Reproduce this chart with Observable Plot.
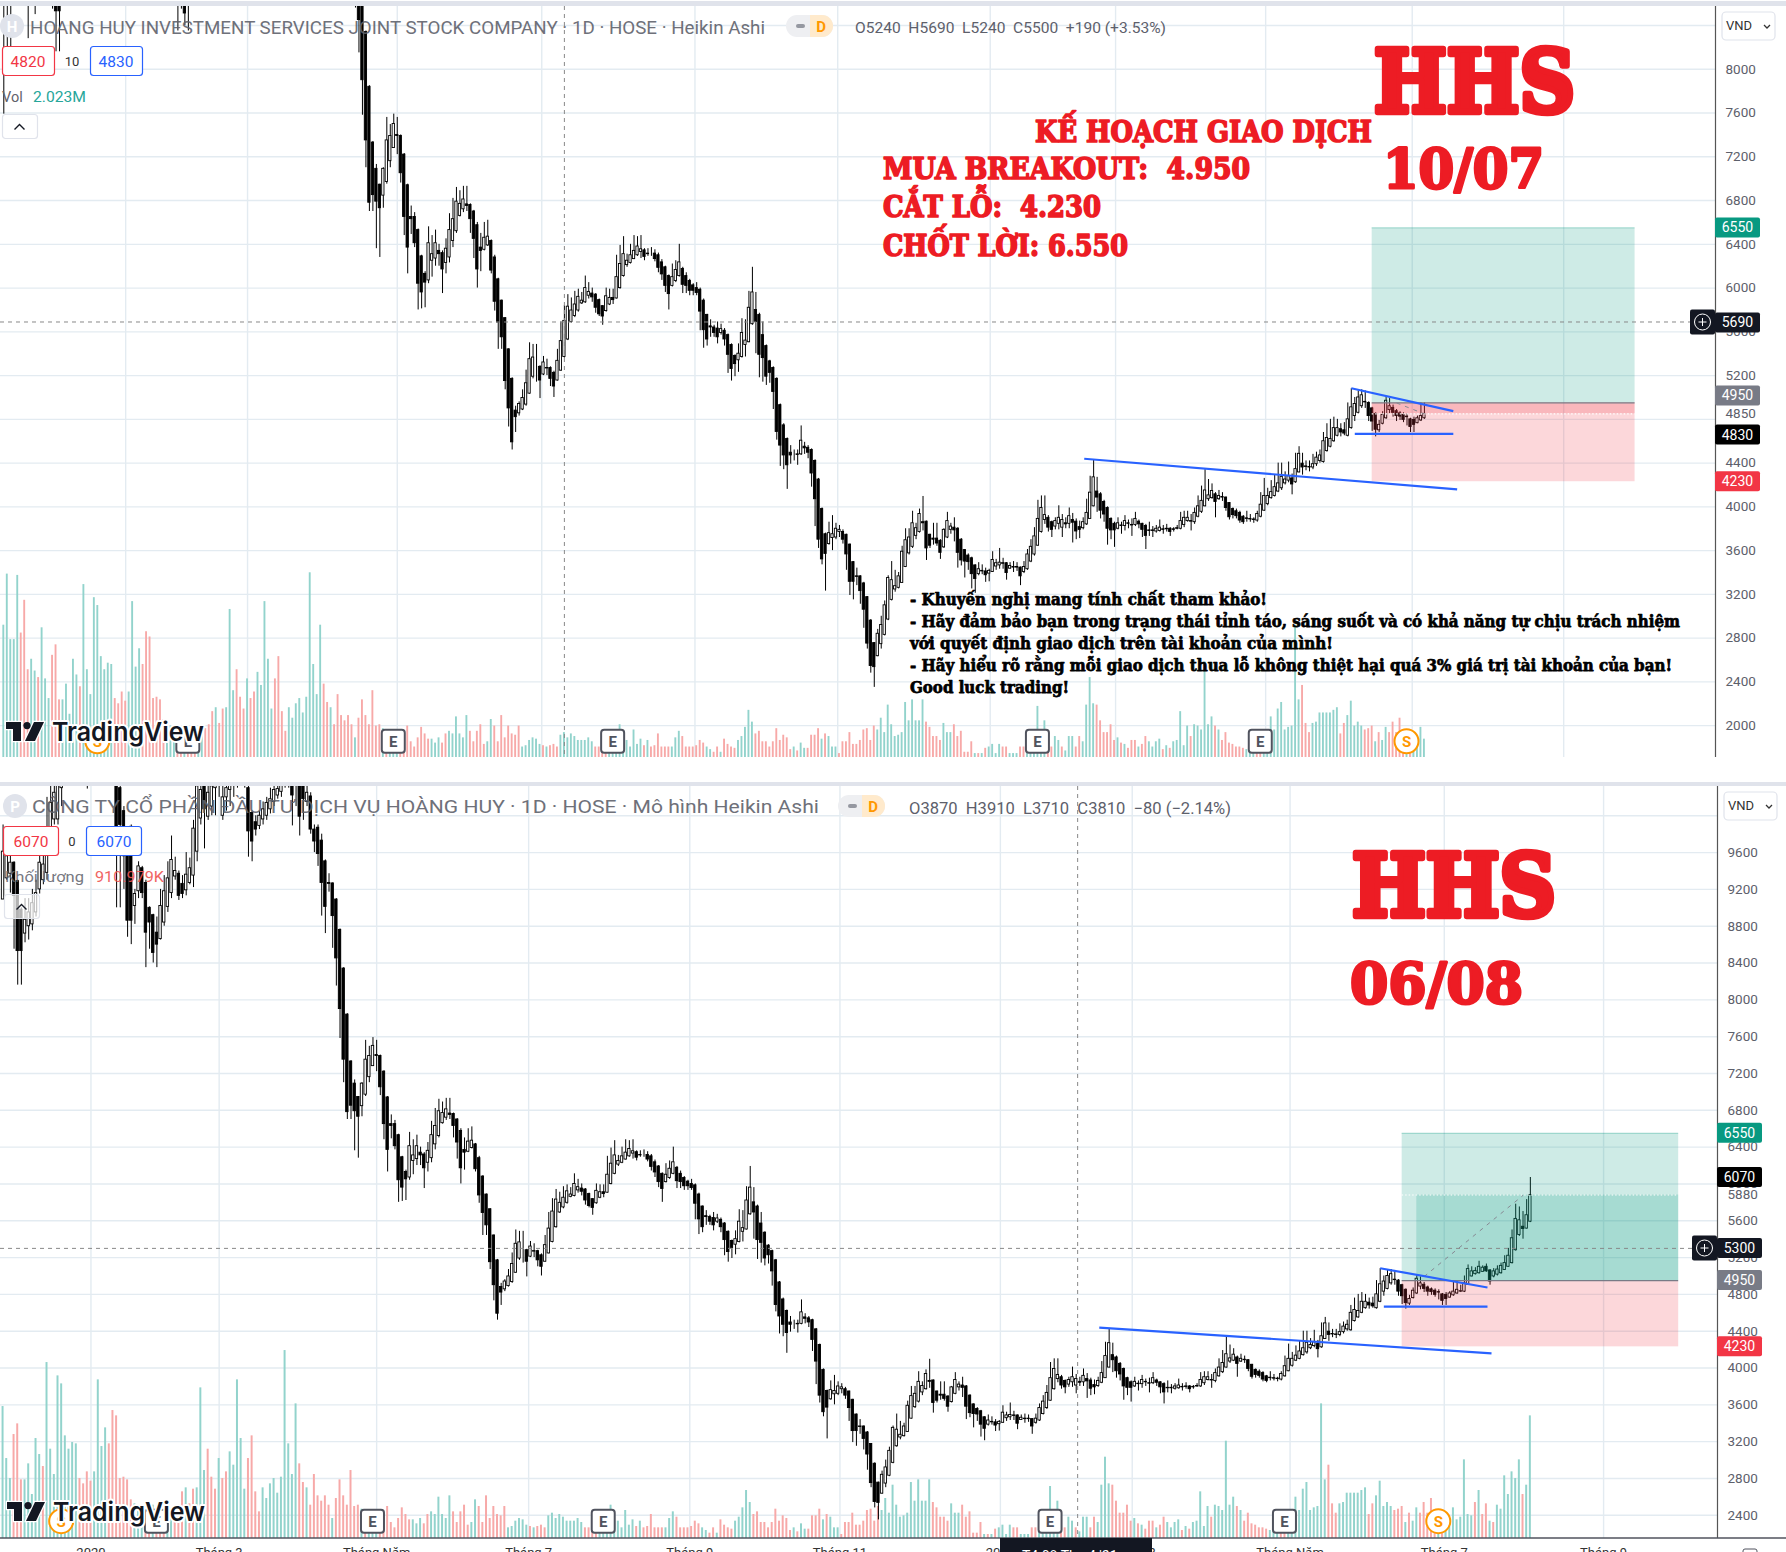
<!DOCTYPE html>
<html><head><meta charset="utf-8">
<script src="https://cdn.jsdelivr.net/npm/d3@7"></script>
<script src="https://cdn.jsdelivr.net/npm/@observablehq/plot@0.6"></script>
<style>
html,body{margin:0;padding:0;background:#fff;overflow:hidden}
#page{position:relative;width:1786px;height:1552px;overflow:hidden;background:#fff}
#page>svg{position:absolute;left:0}
</style></head><body><div id="page"></div>
<script>
// Heikin Ashi daily candles of HHS. First candle index is -11.
const firstIndex = -11;
const opens = [
8800,8650,8800,9000,9200,9300,9200,9000,8950,9050,9150,
9090,9320,9370,9490,9290,8980,8720,8800,8820,8950,9200,9300,9380,9850,9960,9960,10300,10500,
10500,10700,10900,11050,11100,11000,10800,10900,11100,11300,11250,11100,10900,
10400,10300,10050,9560,9880,9020,9180,9430,9270,9000,
8920,8730,8660,8840,9010,9160,9340,9370,9260,9190,
9270,9350,9610,9970,10350,9990,10100,10300,10400,10000,
10200,10280,10350,10450,10550,10500,10300,10030,9930,9890,
9960,10000,10070,10150,10220,10260,10350,10450,10400,10420,
10350,10400,10150,10210,9850,9870,9730,9505,9270,9265,
9090,8760,8340,7840,7330,7090,6945,6845,6970,7160,7280,7400,7390,7220,6940,6650,6650,6530,6290,6130,6070,6250,6270,6340,6320,6230,6280,6430,6520,6660,6720,6765,6760,6700,6575,6370,6350,6390,6430,6280,
6080,5885,5725,5440,5170,4880,4855,4890,4935,5035,5190,5280,5280,5210,5270,5270,5225,5155,5245,5370,5530,5690,5745,5795,5860,5870,5930,5950,5940,5890,5835,5790,5850,5910,5905,6000,6110,6210,6230,6265,6300,6330,6345,6315,6310,6315,6300,6235,6190,6110,6020,6065,6110,6175,6110,6065,6025,6000,5985,5885,5755,5650,5640,5630,5590,5610,5570,5480,5380,5340,5370,5480,5505,5670,5800,5755,5570,5470,5330,5270,5170,4930,4745,4620,4495,4480,4480,4480,4550,4540,4520,4420,4250,3980,3750,3660,3715,3720,3770,3770,3745,3655,3495,3365,3365,3300,3175,2960,2755,
2635,2745,2830,2970,3150,3245,3260,3305,3450,3575,3635,3735,3770,3860,3865,3745,3710,3710,3690,3630,3720,3790,3810,3800,3700,3605,3555,3530,3465,3385,3415,3410,3390,3405,3455,3465,3485,3485,3435,3450,3450,3445,3405,3430,3500,3565,3645,3770,3880,3900,3860,3820,3845,3810,3850,3845,3880,3865,3815,3805,3840,3890,4005,4140,4115,4045,3990,3890,3845,3800,3830,3825,3850,3835,3835,3865,3845,3825,3785,3785,3775,3780,3795,3800,3800,3795,3805,3800,3835,3870,3870,3860,3910,3955,4005,4070,4080,4115,4070,4090,4085,4035,3980,3960,3945,3910,3895,3890,3885,3875,3910,3965,4025,4080,4100,4140,4170,4215,4240,4260,4225,4315,4395,4370,4365,4360,
4390,4420,4410,4510,4550,4600,4650,4710,4700,4650,4720,4830,4860,4920,4960,4950,4900,4850,4700,4760,4810,4885,4905,4875,4855,4840,4825,4800,4795,4765,4790,4810,4830,4830,4905,4995,5020,5030,5045,5100,5060,4995,5015,5030,5065,5100,5140,5280,5445,5535,5515,5590];
const closes = [
8650,8800,9000,9200,9300,9200,9000,8950,9050,9150,9100,
9610,9560,9490,9130,8530,8530,8870,8950,9050,9160,9490,9470,9780,10140,10250,10400,10500,10550,
10700,10900,11050,11100,11000,10800,10900,11100,11300,11250,11100,10950,10700,
9880,9900,9560,8860,8860,9150,9450,9160,8730,8840,
8510,8600,9020,9180,9320,9520,9400,9130,9150,9360,
9430,9860,10320,10280,10070,10250,10320,10400,10350,10200,
10300,10350,10450,10550,10500,10450,9830,9720,9850,10000,
10070,10140,10180,10280,10290,10350,10500,10500,10220,10380,
9990,10180,10250,9850,9720,9585,9270,9010,9260,8910,
8450,7900,7350,6780,6850,6790,6730,7090,7350,7390,7500,7390,7050,6650,6370,6630,6410,6040,5960,6050,6410,6310,6410,6310,6170,6360,6530,6630,6790,6770,6810,6750,6630,6450,6170,6340,6460,6470,6160,5875,
5685,5550,5150,4900,4590,4820,4940,4995,5130,5350,5365,5280,5155,5320,5265,5170,5100,5335,5515,5700,5830,5795,5850,5920,5885,6000,5965,5915,5820,5760,5740,5925,5910,5890,6100,6220,6310,6250,6300,6340,6380,6355,6285,6310,6310,6265,6185,6125,6020,5945,6100,6165,6235,6030,6020,5975,5975,5955,5785,5615,5530,5640,5590,5550,5625,5530,5390,5260,5305,5400,5590,5520,5820,5960,5690,5390,5360,5190,5225,5050,4685,4560,4470,4380,4470,4480,4475,4605,4535,4495,4305,4070,3700,3520,3570,3760,3750,3800,3790,3700,3565,3315,3315,3360,3230,3060,2750,2545,2535,
2840,2920,3100,3350,3330,3275,3365,3590,3695,3720,3850,3805,3935,3850,3620,3645,3700,3665,3580,3790,3870,3820,3785,3580,3510,3500,3495,3385,3340,3430,3410,3375,3415,3515,3485,3490,3480,3395,3460,3445,3445,3365,3450,3565,3635,3730,3890,3990,3925,3810,3790,3870,3900,3880,3840,3915,3855,3775,3790,3860,3945,4130,4270,4085,3965,3930,3800,3785,3785,3850,3825,3870,3845,3830,3890,3840,3790,3735,3780,3780,3800,3810,3790,3795,3770,3790,3800,3870,3900,3900,3865,3945,4005,4055,4150,4105,4145,4045,4100,4085,3990,3905,3925,3915,3875,3860,3890,3885,3880,3935,4020,4100,4100,4135,4180,4215,4275,4250,4280,4205,4345,4485,4360,4365,4360,4390,
4450,4470,4600,4630,4620,4720,4720,4680,4670,4800,4910,4940,5000,5020,4955,4830,4780,4705,4750,4840,4970,4920,4860,4830,4825,4795,4820,4730,4750,4810,4830,4850,4835,4920,5075,5050,5055,5100,5090,5050,4940,5050,5070,5110,5140,5220,5410,5620,5605,5510,5660,5880];
const highs = [
9000,9000,9200,9400,9500,9450,9300,9150,9200,9350,9300,
9900,9700,9700,9500,9300,9000,9100,9100,9200,9300,9800,9700,10200,10320,10400,10600,10800,10700,
10900,11100,11300,11400,11300,11100,11100,11300,11500,11600,11400,11200,11000,
10500,10400,10100,9600,9900,9200,9500,9450,9300,9010,
8930,8900,9200,9350,9500,9780,9550,9400,9350,9600,
9540,9950,10600,10500,10500,10500,10500,10600,10550,10400,
10500,10550,10700,10800,10750,10700,10500,10050,10000,10050,
10150,10200,10300,10400,10450,10500,10650,10650,10500,10520,
10450,10450,10350,10250,9900,9900,9800,9520,9370,9270,
9100,8770,8350,7850,7340,7130,6950,7100,7560,7495,7590,7560,7400,7230,6950,6750,6690,6540,6300,6150,6560,6480,6530,6400,6340,6450,6680,6820,6920,6890,6930,6930,6770,6710,6600,6500,6600,6620,6440,6300,
6090,5890,5730,5445,5180,4920,4960,5070,5250,5500,5485,5485,5290,5375,5350,5280,5240,5440,5690,5840,5940,5910,5970,5990,5960,6110,6050,6000,5950,5900,5840,6000,5990,5990,6300,6390,6470,6310,6400,6480,6470,6480,6360,6360,6370,6350,6320,6260,6200,6120,6220,6250,6400,6190,6140,6080,6040,6050,6000,5900,5760,5710,5660,5690,5670,5630,5580,5490,5390,5490,5720,5710,5970,6190,5960,5770,5690,5480,5340,5280,5180,4940,4760,4630,4560,4520,4520,4740,4590,4560,4530,4430,4260,3990,3760,3860,3920,3850,3830,3790,3750,3660,3500,3440,3370,3310,3180,2970,2760,
2880,3000,3140,3370,3500,3420,3400,3640,3800,3800,3960,3850,3980,4095,3870,3750,3850,3850,3700,3800,3950,3850,3900,3810,3710,3610,3570,3540,3470,3490,3470,3440,3430,3590,3520,3620,3530,3490,3490,3500,3490,3450,3500,3610,3700,3810,4060,4100,4100,3920,3870,3900,4010,3930,3900,3990,3940,3890,3870,3900,4070,4280,4430,4270,4130,4060,4000,3900,3860,3900,3860,3920,3880,3890,3950,3880,3850,3840,3860,3820,3830,3880,3830,3840,3810,3810,3830,3950,3960,3960,3930,3990,4100,4190,4340,4250,4210,4130,4150,4130,4090,4040,3990,3980,3960,3920,3960,3930,3900,3960,4130,4260,4170,4240,4290,4400,4400,4320,4410,4300,4490,4550,4490,4420,4420,4480,
4500,4520,4680,4760,4800,4820,4800,4760,4770,4950,5080,5000,5060,5070,5060,4960,4910,4860,4790,4870,5010,4990,4930,4890,4870,4860,4850,4810,4820,4830,4950,4950,4900,5000,5120,5100,5090,5160,5110,5130,5070,5080,5110,5140,5220,5300,5500,5780,5750,5700,5830,6070];
const lows = [
7590,8200,8200,8650,8900,8800,8700,8280,8600,8500,8700,
9090,9300,9160,8550,8160,8160,8620,8650,8750,8900,9150,9250,9300,9800,9900,9900,10100,10400,
10400,10500,10700,10800,10700,10290,10500,10700,10900,11000,10800,10500,10400,
9000,9000,9200,8680,8600,8820,9100,9100,8350,8550,
8400,8350,8650,8800,8950,9100,9300,9080,9100,9130,
9250,9220,9500,9900,9640,9950,10000,10000,10200,9950,
10050,10100,10200,10300,10350,10300,9550,9500,9780,9850,
9900,9950,10020,10100,10180,10200,10300,10300,9890,10100,
9780,9950,10100,9800,9600,9450,8910,8720,9170,8560,
8150,7580,7100,6700,6700,6360,6280,6730,6950,7100,7280,7220,6960,6480,6130,6490,6370,5800,5810,5820,6040,6100,6200,6200,5950,6130,6230,6370,6500,6650,6690,6700,6500,6270,6000,6150,6340,6380,6130,5790,
5440,5440,5070,4730,4520,4680,4830,4880,4920,5030,5170,5140,4990,5200,5200,5100,5000,5150,5240,5360,5520,5680,5730,5780,5850,5860,5900,5870,5770,5740,5660,5780,5840,5850,5900,5990,6100,6190,6220,6260,6290,6270,6250,6290,6290,6240,6140,6070,5960,5800,6010,6050,6100,5950,5950,5930,5930,5930,5610,5450,5470,5550,5550,5490,5570,5470,5220,5150,5190,5230,5360,5370,5500,5660,5400,5180,5140,5110,5130,4890,4610,4370,4340,4160,4390,4420,4380,4470,4480,4440,4180,3820,3620,3470,3230,3650,3600,3700,3720,3660,3420,3190,3150,3280,3110,2890,2700,2480,2350,
2630,2700,2820,2960,3140,3220,3250,3300,3445,3560,3620,3700,3760,3780,3510,3620,3650,3640,3520,3620,3710,3750,3680,3440,3460,3350,3420,3250,3210,3370,3380,3310,3315,3400,3420,3430,3430,3330,3430,3400,3410,3280,3390,3420,3490,3550,3640,3760,3840,3770,3720,3790,3790,3720,3800,3800,3670,3700,3710,3790,3830,3890,4000,3950,3890,3860,3650,3700,3630,3790,3750,3780,3800,3730,3820,3800,3720,3610,3730,3720,3760,3770,3750,3770,3730,3770,3790,3790,3810,3860,3780,3840,3900,3940,4000,4050,4070,3900,4060,4050,3960,3880,3890,3890,3850,3840,3860,3860,3850,3860,3900,3960,4010,4070,4090,4130,4150,4200,4220,4110,4215,4310,4290,4330,4320,4340,
4370,4400,4400,4500,4540,4590,4640,4640,4650,4640,4710,4780,4850,4900,4900,4780,4690,4640,4680,4750,4800,4850,4820,4780,4790,4770,4740,4680,4680,4760,4780,4800,4820,4820,4900,4990,5010,5020,5040,5040,4900,4980,5000,5020,5060,5095,5130,5270,5430,5400,5510,5580];
// Volume in units of 10,000 shares. Negative = a red (down) bar, positive = a teal (up) bar.
const signedVols = [
101,140,90,90,139,-95,-120,-67,75,66,-61,
99,60,45,-78,-86,-44,44,56,33,75,
63,-54,132,67,48,122,116,77,67,72,
71,-45,-41,-50,-43,50,119,69,83,-71,
-96,-92,-45,-46,-44,-29,26,24,20,-18,
-20,25,-12,-20,-18,16,18,-22,-25,-35,
38,-26,-37,38,113,51,-67,-46,-37,60,
-45,-50,65,55,119,75,37,-60,-77,-35,
-20,38,30,41,45,34,46,141,71,48,
101,-56,-42,38,-25,-48,-32,-28,-32,-25,
15,-30,-44,-32,-25,-51,-24,-25,22,-18,
15,14,15,-15,-13,-24,-12,-8,-15,-23,-18,-14,14,11,15,-11,-18,20,18,31,18,15,32,-20,-12,-20,-25,-10,12,29,-24,-12,-32,-15,-24,-18,-17,-24,8,9,13,
15,14,10,-9,8,-9,-10,-8,17,19,
15,18,16,13,13,13,15,12,-8,-8,
-6,-6,5,5,7,25,13,13,8,21,
10,14,-9,13,-8,-9,-18,-8,-8,-8,
8,15,20,-16,-8,-8,-8,-9,-13,-11,
8,6,-4,-8,4,-14,-10,-8,-7,13,
16,23,36,27,-18,-20,-12,-12,-8,-12,
-22,-13,-17,-15,-6,8,-5,11,7,-7,
-17,-17,-22,14,-18,16,8,8,-3,-12,
-12,-19,-10,-10,-13,-21,-22,-13,-24,21,
30,19,40,25,16,17,19,42,28,44,
28,28,44,-27,-23,-16,-16,-13,26,19,
19,-25,-16,-20,-4,-4,-12,3,-3,3,
-7,8,10,3,10,-8,-8,3,3,3,
-8,-8,6,5,5,39,18,28,-16,-8,
16,13,-8,5,16,16,-8,-16,12,40,
61,41,-40,-28,-19,-19,-25,-13,15,-11,
10,-7,-13,-13,8,-10,-16,12,8,12,
14,-6,9,-7,12,13,35,9,24,-16,
25,24,21,73,25,31,-24,21,-13,-19,
-11,-10,-8,-8,-7,6,6,6,-6,-10,
10,20,31,21,37,42,21,23,24,101,44,-55,-26,-19,26,
27,34,34,34,34,36,38,-18,-26,32,
43,24,27,24,-21,-22,-24,12,-19,13,
23,-19,-27,-19,-30,-19,19,-19,14,13,
23,14,16,59,18,17,-27,36,-18,-26,
13,-12,25,22,47,33,50,45,59,-33,
40,92];
// Month separators, shared by both panels, and the bottom axis labels.
const monthIndex = [24,59,102,143.5,187.5,228.5,272.3,308.3,351.4,393.5,437];
const monthLabels = ["2020","Tháng 3","Tháng Năm","Tháng 7","Tháng 9","Tháng 11","2021","Tháng 3","Tháng Năm","Tháng 7","Tháng 9"];
const earningsIndex = [42,101,164,286,350];
const splitIndex = [16,392];
// Trend lines, drawn on the same candles in both panels.
const trendX1 = [299.3,376,377], trendY1 = [4440,5084,4667];
const trendX2 = [406.4,405.3,405.3], trendY2 = [4160,4875,4667];
// Long position tool.
const entry = 4950, stopLoss = 4230, takeProfit = 6550;
const boxStart = 382, boxEnd = 457.5;
// Panel scale facts.
const topGrid = [8400,8000,7600,7200,6800,6400,6000,5600,5200,4800,4400,4000,3600,3200,2800,2400,2000];
const topTicks = [8000,7600,7200,6800,6400,6000,5600,5200,4850,4400,4000,3600,3200,2800,2400,2000];
const botGrid = [10000,9600,9200,8800,8400,8000,7600,7200,6800,6400,6000,5600,5200,4800,4400,4000,3600,3200,2800,2400];
const botTicks = [9600,9200,8800,8400,8000,7600,7200,6800,6400,6000,5880,5600,5200,4800,4400,4000,3600,3200,2800,2400];

const candles = opens.map((o,k)=>({i:k+firstIndex,o,c:closes[k],h:highs[k],l:lows[k]}));
const bars = signedVols.map((v,k)=>({i:k+firstIndex,v:Math.abs(v),down:v<0}));
const page = document.getElementById("page");
const TEAL="#92d3cc", RED="#f7a9a8", GRID="#e3ebf1";

function eventMark(indexes,label,colour,priceY){
  return (index,{x,y})=>{
    const g=d3.create("svg:g");
    indexes.forEach(i=>{
      const n=g.append("g").attr("transform",`translate(${x(i)},${y(priceY)})`);
      if(label==="E"){
        n.append("rect").attr("x",-11.5).attr("y",-11.5).attr("width",23).attr("height",23).attr("rx",3).attr("fill","#fff").attr("stroke",colour).attr("stroke-width",2);
      }else{
        n.append("circle").attr("r",12).attr("fill","#fff").attr("stroke",colour).attr("stroke-width",2);
      }
      n.append("text").attr("text-anchor","middle").attr("y",5.5).attr("font-size",15).attr("font-weight",700).attr("font-family","Roboto").attr("fill",colour).text(label);
    });
    return g.node();
  };
}
function badgeMark(list){
  return (index,{y},values,dims)=>{
    const g=d3.create("svg:g");
    const x0=dims.width-dims.marginRight;
    list.forEach(b=>{
      const cy=y(b.value)+(b.shift||0);
      g.append("rect").attr("x",x0).attr("y",cy-10).attr("width",45).attr("height",20).attr("rx",2).attr("fill",b.colour);
      g.append("text").attr("x",x0+22.5).attr("text-anchor","middle").attr("y",cy+5).attr("font-size",14).attr("font-family","Roboto").attr("fill","#fff").text(b.text||b.value);
    });
    return g.node();
  };
}
function panel(o){
  const cs=candles.filter(d=>d.i<=o.last&&d.i>=o.first), bs=bars.filter(d=>d.i<=o.last&&d.i>=o.first);
  const common={width:1786,height:o.height,marginTop:0,marginLeft:0,marginRight:o.marginRight,marginBottom:o.marginBottom,style:{background:"transparent",position:"absolute",top:o.top+"px",left:"0",overflow:"hidden"}};
  const frameH=o.height-o.marginBottom;
  const under=Plot.plot({...common,
    x:{domain:o.xDomain,axis:null},y:{domain:[0,100],range:[frameH,frameH-o.volPx],axis:null},
    marks:[
      Plot.rect(bs.filter(d=>!d.down),{x1:d=>d.i-.27,x2:d=>d.i+.27,y1:0,y2:"v",fill:TEAL,clip:true}),
      Plot.rect(bs.filter(d=>d.down),{x1:d=>d.i-.27,x2:d=>d.i+.27,y1:0,y2:"v",fill:RED,clip:true})
    ]});
  const grid=Plot.plot({...common,
    x:{domain:o.xDomain,axis:null},y:{domain:o.yDomain,axis:null},
    marks:[
      Plot.ruleY(o.grid,{stroke:GRID,strokeWidth:1.4}),
      Plot.ruleX(monthIndex,{stroke:GRID,strokeWidth:1.4})
    ]});
  const over=Plot.plot({...common,
    x:{domain:o.xDomain,axis:null},y:{domain:o.yDomain,axis:null},
    marks:[
      Plot.ruleX(cs,{x:"i",y1:"l",y2:"h",stroke:"#000",strokeWidth:1,clip:true}),
      Plot.rect(cs.filter(d=>d.c>=d.o),{x1:d=>d.i-.33,x2:d=>d.i+.33,y1:"o",y2:"c",fill:"#fff",stroke:"#000",strokeWidth:.9,clip:true}),
      Plot.rect(cs.filter(d=>d.c<d.o),{x1:d=>d.i-.33,x2:d=>d.i+.33,y1:"o",y2:"c",fill:"#000",stroke:"#000",strokeWidth:.9,clip:true}),
      Plot.rect([{a:boxStart,b:boxEnd,p:entry,q:takeProfit}],{x1:"a",x2:"b",y1:"p",y2:"q",fill:"#089981",fillOpacity:.2}),
      Plot.rect([{a:boxStart,b:boxEnd,p:stopLoss,q:entry}],{x1:"a",x2:"b",y1:"p",y2:"q",fill:"#f23645",fillOpacity:.2}),
      Plot.rect([o.live],{x1:"a",x2:"b",y1:"p",y2:"q",fill:o.liveColour,fillOpacity:.2}),
      Plot.ruleY([takeProfit],{x1:boxStart,x2:boxEnd,stroke:"#089981",strokeOpacity:.3}),
      Plot.ruleY([entry],{x1:boxStart,x2:boxEnd,stroke:"#787b86",strokeWidth:1.2}),
      Plot.ruleY([o.live.dotted],{x1:boxStart,x2:boxEnd,stroke:"#fff",strokeWidth:1.2,strokeDasharray:"1.5 2"}),
      Plot.link([o.guide],{x1:"x1",y1:"y1",x2:"x2",y2:"y2",stroke:"#868993",strokeWidth:1,strokeDasharray:"4 5"}),
      Plot.link(trendX1.map((x,k)=>({x,y:trendY1[k],x2:trendX2[k],y2:trendY2[k]})),{x1:"x",y1:"y",x2:"x2",y2:"y2",stroke:"#2962ff",strokeWidth:2.2}),
      Plot.ruleY([o.crossP],{stroke:"#888",strokeWidth:1,strokeDasharray:"4 4"}),
      Plot.ruleX([o.crossI],{stroke:"#888",strokeWidth:1,strokeDasharray:"4 4"}),
      eventMark(earningsIndex,"E","#50535e",o.eventP),
      eventMark(splitIndex,"S","#ff9800",o.eventP),
      Plot.ruleX([o.xDomain[1]],{stroke:"#555",strokeWidth:1.2}),
      Plot.axisY(o.ticks,{anchor:"right",tickSize:0,tickPadding:10,fontSize:13.5,fill:"#5d606b",label:null,tickFormat:"d",fontFamily:"Roboto"}),
      badgeMark(o.badges),
      ...(o.xAxis?[Plot.axisX(monthIndex,{anchor:"bottom",tickSize:0,tickPadding:9,fontSize:13,fill:"#333",label:null,tickFormat:(d,k)=>monthLabels[k],fontFamily:"Roboto"})]:[])
    ]});
  page.append(grid,under,over);
}
panel({top:6,height:751,marginRight:71,marginBottom:0,first:-11,last:397,volPx:131,
  xDomain:[-11.95,480.6],yDomain:[1709,8574],grid:topGrid,ticks:topTicks,crossP:5690,crossI:150,eventP:1853,
  live:{a:boxStart,b:boxEnd,p:4850,q:entry,dotted:4850},liveColour:"#f23645",
  guide:{x1:389,y1:4950,x2:397,y2:4850},
  badges:[{value:6550,colour:"#089981"},{value:5690,colour:"#131722",shift:1},{value:4950,colour:"#787b86",shift:-7},{value:4830,colour:"#000",shift:19},{value:4230,colour:"#f23645"}]});
panel({top:786,height:766,marginRight:69,marginBottom:14,first:0,last:417,volPx:133.3,xAxis:true,
  xDomain:[-.7,468.1],yDomain:[2148,10318],grid:botGrid,ticks:botTicks,crossP:5300,crossI:293.4,eventP:2331,
  live:{a:386,b:boxEnd,p:entry,q:5880,dotted:5880},liveColour:"#089981",
  guide:{x1:388,y1:4994,x2:415,y2:5876},
  badges:[{value:6550,colour:"#089981"},{value:6070,colour:"#000"},{value:5300,colour:"#131722"},{value:4950,colour:"#787b86"},{value:4230,colour:"#f23645"}]});

// Annotations and chart furniture on one layer above the plots.
const ann=d3.select(page).append("svg").attr("width",1786).attr("height",1552).style("top","0").style("pointer-events","none");
function t(x,y,s,o={}){
  const e=ann.append("text").attr("x",x).attr("y",y).text(s)
    .attr("font-family",o.font||"Roboto").attr("font-size",o.size||14).attr("fill",o.fill||"#555")
    .attr("font-weight",o.weight||400).attr("text-anchor",o.anchor||"start").attr("xml:space","preserve").style("white-space","pre");
  if(o.len){e.attr("textLength",o.len).attr("lengthAdjust","spacingAndGlyphs");}
  if(o.stroke){e.attr("stroke",o.stroke).attr("stroke-width",o.sw||1).attr("stroke-linejoin","round");}
  if(o.halo){e.attr("stroke","#fff").attr("stroke-width",o.halo).attr("paint-order","stroke").attr("stroke-linejoin","round");}
  if(o.opacity){e.attr("opacity",o.opacity);}
  return e;
}
function r(x,y,w,h,o={}){return ann.append("rect").attr("x",x).attr("y",y).attr("width",w).attr("height",h).attr("rx",o.rx||0).attr("fill",o.fill||"none").attr("stroke",o.stroke||"none").attr("stroke-width",o.sw||1);}
const SERIF="DejaVu Serif", REDT="#ed1c24";
// bands
r(0,1,1786,5,{fill:"#e0e3eb"}); r(0,782,1786,4,{fill:"#e0e3eb"});
ann.append("line").attr("x1",0).attr("x2",1786).attr("y1",1538).attr("y2",1538).attr("stroke","#50535e").attr("stroke-width",1.5);
// top panel big text
t(1374,112,"HHS",{font:SERIF,weight:700,size:86,fill:REDT,len:201,stroke:REDT,sw:6.5});
t(1383,188,"10/07",{font:SERIF,weight:700,size:54,fill:REDT,len:161,stroke:REDT,sw:3});
t(1035,142,"KẾ HOẠCH GIAO DỊCH",{font:SERIF,weight:700,size:29,fill:REDT,len:337,stroke:REDT,sw:1.7});
t(883,179,"MUA BREAKOUT:  4.950",{font:SERIF,weight:700,size:29,fill:REDT,len:367,stroke:REDT,sw:1.7});
t(883,217,"CẮT LỖ:  4.230",{font:SERIF,weight:700,size:29,fill:REDT,len:218,stroke:REDT,sw:1.7});
t(883,256,"CHỐT LỜI: 6.550",{font:SERIF,weight:700,size:29,fill:REDT,len:245,stroke:REDT,sw:1.7});
[["- Khuyến nghị mang tính chất tham khảo!",605,357],
 ["- Hãy đảm bảo bạn trong trạng thái tỉnh táo, sáng suốt và có khả năng tự chịu trách nhiệm",627,770],
 ["với quyết định giao dịch trên tài khoản của mình!",649,423],
 ["- Hãy hiểu rõ rằng mỗi giao dịch thua lỗ không thiệt hại quá 3% giá trị tài khoản của bạn!",671,762],
 ["Good luck trading!",693,159]].forEach(([s,y,len])=>t(910,y,s,{font:SERIF,weight:700,size:16.5,fill:"#000",len,stroke:"#000",sw:.75}));
// bottom panel big text
t(1352,916,"HHS",{font:SERIF,weight:700,size:86,fill:REDT,len:204,stroke:REDT,sw:6.5});
t(1350,1003,"06/08",{font:SERIF,weight:700,size:56,fill:REDT,len:173,stroke:REDT,sw:3});
// legends
ann.append("circle").attr("cx",12).attr("cy",26).attr("r",12).attr("fill","#e0e3eb");
t(12,32,"H",{anchor:"middle",weight:700,size:15,fill:"#fff"});
t(30,34,"HOANG HUY INVESTMENT SERVICES JOINT STOCK COMPANY · 1D · HOSE · Heikin Ashi",{size:18.5,fill:"#5f626c",len:735,opacity:.9});
t(855,33,"O5240  H5690  L5240  C5500  +190 (+3.53%)",{size:15,fill:"#5d606b",len:311});
function chip(x,y){
  r(x,y,47,22,{rx:11,fill:"#eeeff2"});
  ann.append("path").attr("d",`M${x+24},${y} h12 a11,11 0 0 1 0,22 h-12 z`).attr("fill","#ffeacc");
  r(x+10,y+9,9,4,{rx:2,fill:"#9598a1"});
  t(x+35,y+16.5,"D",{anchor:"middle",weight:700,size:15,fill:"#ff9800"});
}
chip(786,15); chip(838,795);
r(2.5,46.5,52,29,{rx:3,fill:"#fff",stroke:"#f23645",sw:1.2}); t(28,67,"4820",{anchor:"middle",size:15.5,fill:"#f23645"});
t(72,66,"10",{anchor:"middle",size:13,fill:"#333"});
r(90.5,46.5,52,29,{rx:3,fill:"#fff",stroke:"#2962ff",sw:1.2}); t(116,67,"4830",{anchor:"middle",size:15.5,fill:"#2962ff"});
t(2,102,"Vol",{size:14.5,fill:"#5f626c"}); t(33,102,"2.023M",{size:14.5,fill:"#26a69a",len:53});
function chevBtn(x,y){
  r(x,y,35,24,{rx:3,fill:"#fff",stroke:"#e0e3eb",sw:1.2}).attr("fill-opacity",.7);
  ann.append("path").attr("d",`M${x+12},${y+15} l5,-5 l5,5`).attr("fill","none").attr("stroke","#131722").attr("stroke-width",1.4);
}
chevBtn(2.5,114.5);
ann.append("circle").attr("cx",15).attr("cy",806).attr("r",12).attr("fill","#e0e3eb");
t(15,812,"P",{anchor:"middle",weight:700,size:15,fill:"#fff"});
t(32,813,"CÔNG TY CỔ PHẦN ĐẦU TƯ DỊCH VỤ HOÀNG HUY · 1D · HOSE · Mô hình Heikin Ashi",{size:19,fill:"#5f626c",len:787,opacity:.9});
t(909,814,"O3870  H3910  L3710  C3810  −80 (−2.14%)",{size:16,fill:"#5d606b",len:322});
r(3.5,826.5,55,29,{rx:3,fill:"#fff",stroke:"#f23645",sw:1.2}); t(31,847,"6070",{anchor:"middle",size:15.5,fill:"#f23645"});
t(72,846,"0",{anchor:"middle",size:13,fill:"#333"});
r(86.5,826.5,55,29,{rx:3,fill:"#fff",stroke:"#2962ff",sw:1.2}); t(114,847,"6070",{anchor:"middle",size:15.5,fill:"#2962ff"});
t(5,882,"Khối lượng",{size:15.5,fill:"#5f626c",len:79,opacity:.85}); t(95,882,"910.979K",{size:15.5,fill:"#ef5350",len:69,opacity:.9});
chevBtn(4.5,894.5);
// currency buttons
function vnd(x,y){
  r(x,y,53,28,{rx:4,fill:"#fff",stroke:"#e0e3eb",sw:1.2});
  t(x+4,y+18,"VND",{size:13,fill:"#333"});
  ann.append("path").attr("d",`M${x+42},${y+13} l3,3 l3,-3`).attr("fill","none").attr("stroke","#333").attr("stroke-width",1.3);
}
vnd(1722,12); vnd(1724,792);
// crosshair plus buttons
function plus(x,y){
  r(x,y-12.5,25,25,{rx:2,fill:"#131722"});
  ann.append("circle").attr("cx",x+12.5).attr("cy",y).attr("r",8).attr("fill","none").attr("stroke","#fff");
  ann.append("path").attr("d",`M${x+8.5},${y} h8 M${x+12.5},${y-4} v8`).attr("stroke","#fff");
}
plus(1690,322); plus(1692,1248);
// logos
function logo(x,y){
  const g=ann.append("g").attr("transform",`translate(${x},${y})`);
  g.append("path").attr("d","M0,0 H15 V19 H7 V7 H0 Z M28,0 H38 L29,19 H19 Z").attr("fill","#131722").attr("stroke","#fff").attr("stroke-width",2.5).attr("paint-order","stroke");
  g.append("circle").attr("cx",21).attr("cy",3.6).attr("r",3.6).attr("fill","#131722");
  t(x+46,y+19,"TradingView",{font:"Inter",weight:600,size:26,fill:"#131722",len:152,halo:4});
}
logo(6,722); logo(7,1502);
// bottom date chip
r(1000,1538,152,14,{fill:"#131722"}); t(1022,1561,"T4 08 Thg 4 '21",{size:14,fill:"#fff"});
r(1743,1549,14,8,{rx:2,stroke:"#50535e"});
</script></body></html>
